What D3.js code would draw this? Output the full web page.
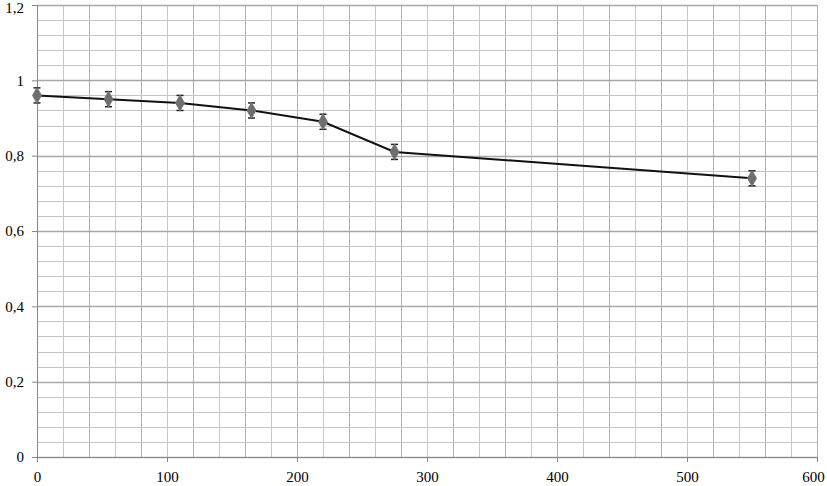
<!DOCTYPE html>
<html>
<head>
<meta charset="utf-8">
<script src="https://cdn.jsdelivr.net/npm/d3@7"></script>
<style>
body{margin:0;background:#fff;}
svg{display:block;}
svg text{font-family:"Liberation Serif","DejaVu Serif",serif !important;font-size:15px !important;}
</style>
</head>
<body>
<svg></svg>
<script>
var xVals=[0,55,110,165,220,275,550];
var yVals=[0.96,0.95,0.94,0.92,0.89,0.81,0.74];
var errVals=[0.02,0.02,0.02,0.02,0.02,0.02,0.02];
var xTicks=[0,100,200,300,400,500,600];
var yTicks=[0,0.2,0.4,0.6,0.8,1,1.2];

var screen={width:827,height:486};
var margins={top:5,bottom:29,left:37,right:10};
var boxWidth=screen.width-margins.left-margins.right;
var boxHeight=screen.height-margins.top-margins.bottom;

var svg=d3.select("svg")
          .attr("width",screen.width)
          .attr("height",screen.height);

var xScale=d3.scaleLinear().domain([0,600]).range([0,boxWidth]);
var yScale=d3.scaleLinear().domain([0,1.2]).range([boxHeight,0]);

var plot=svg.append("g")
            .attr("transform","translate("+margins.left+","+margins.top+")");

// grid
var vLines=d3.range(0,601,20);
var hLines=d3.range(0,31).map(function(i){return i*0.04;});
plot.selectAll(".vgrid")
    .data(vLines)
    .enter()
    .append("line")
    .attr("x1",function(d){return Math.round(xScale(d))+0.5;})
    .attr("x2",function(d){return Math.round(xScale(d))+0.5;})
    .attr("y1",0)
    .attr("y2",boxHeight)
    .attr("stroke",function(d,i){return i%2==0?"#b0b0b0":"#c8c8c8";})
    .attr("stroke-width",1);
plot.selectAll(".hgrid")
    .data(hLines)
    .enter()
    .append("line")
    .attr("x1",0)
    .attr("x2",boxWidth)
    .attr("y1",function(d){return Math.round(yScale(d))+0.5;})
    .attr("y2",function(d){return Math.round(yScale(d))+0.5;})
    .attr("stroke",function(d,i){return i%5==0?"#a8a8a8":"#c4c4c4";})
    .attr("stroke-width",function(d,i){return i%5==0?1.5:1;});

// axes
var xAxis=d3.axisBottom(xScale).tickValues(xTicks).tickSize(5).tickPadding(9)
            .tickFormat(d3.format("d"));
var yAxis=d3.axisLeft(yScale).tickValues(yTicks).tickSize(5).tickPadding(8)
            .tickFormat(function(d){return String(+d.toFixed(1)).replace(".",",");});
var gx=plot.append("g").attr("transform","translate(0,"+boxHeight+")").call(xAxis);
var gy=plot.append("g").call(yAxis);
[gx,gy].forEach(function(g){
  g.attr("font-family",null).attr("font-size",null);
  g.select(".domain").attr("stroke","#888");
  g.selectAll(".tick line").attr("stroke","#888");
  g.selectAll(".tick text").attr("fill","#000");
});
gy.selectAll(".tick text").filter(function(d){return d==1.2;}).attr("dy","0.5em");
gx.selectAll(".tick text").filter(function(d){return d==600;}).attr("dx","-4");

var points=xVals.map(function(x,i){return {x:x,y:yVals[i],e:errVals[i]};});

// line
var line=d3.line()
           .x(function(d){return xScale(d.x);})
           .y(function(d){return yScale(d.y);});
plot.append("path")
    .datum(points)
    .attr("d",line)
    .attr("fill","none")
    .attr("stroke","#111")
    .attr("stroke-width",2);

// error bars
var eb=plot.selectAll(".eb")
           .data(points)
           .enter()
           .append("g");
eb.append("line")
  .attr("x1",function(d){return xScale(d.x);})
  .attr("x2",function(d){return xScale(d.x);})
  .attr("y1",function(d){return yScale(d.y+d.e);})
  .attr("y2",function(d){return yScale(d.y-d.e);})
  .attr("stroke","#222").attr("stroke-width",1);
eb.append("line")
  .attr("x1",function(d){return xScale(d.x)-3.5;})
  .attr("x2",function(d){return xScale(d.x)+3.5;})
  .attr("y1",function(d){return yScale(d.y+d.e);})
  .attr("y2",function(d){return yScale(d.y+d.e);})
  .attr("stroke","#222").attr("stroke-width",1.5);
eb.append("line")
  .attr("x1",function(d){return xScale(d.x)-3.5;})
  .attr("x2",function(d){return xScale(d.x)+3.5;})
  .attr("y1",function(d){return yScale(d.y-d.e);})
  .attr("y2",function(d){return yScale(d.y-d.e);})
  .attr("stroke","#222").attr("stroke-width",1.5);

// markers
plot.selectAll(".pt")
    .data(points)
    .enter()
    .append("path")
    .attr("d",d3.symbol().type(d3.symbolDiamond).size(70))
    .attr("transform",function(d){return "translate("+xScale(d.x)+","+yScale(d.y)+")";})
    .attr("fill","#6e6e6e")
    .attr("stroke","#777")
    .attr("stroke-width",1);
</script>
</body>
</html>
